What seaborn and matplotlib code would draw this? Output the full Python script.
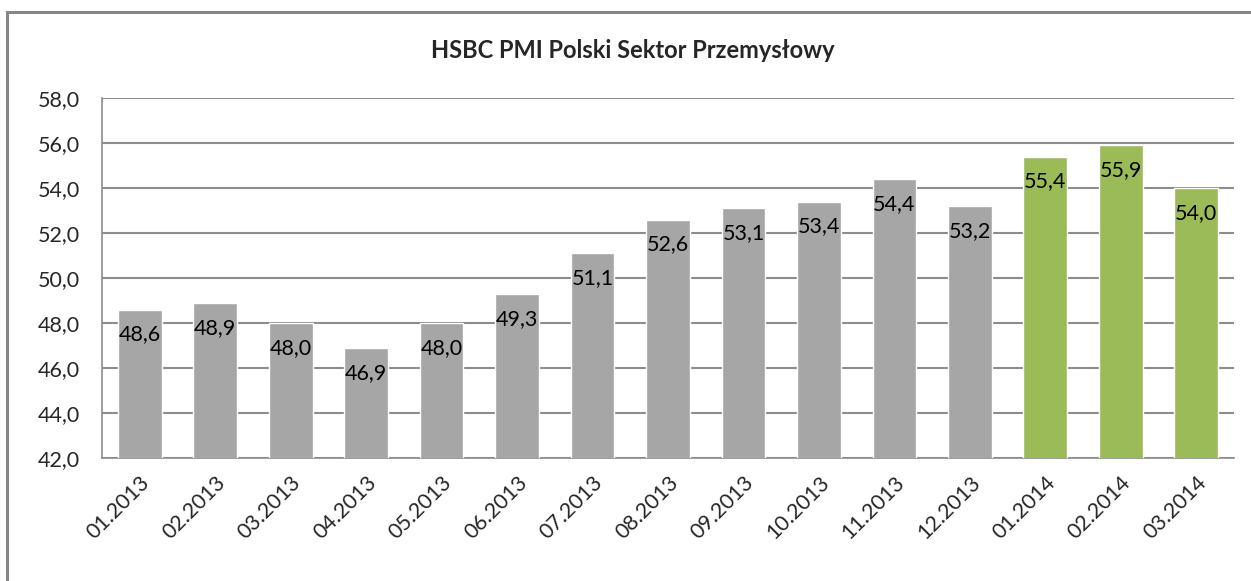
import matplotlib
matplotlib.use("Agg")
import matplotlib.pyplot as plt
from matplotlib.patches import Rectangle
import seaborn as sns
import pandas as pd

# Data
months = ['01.2013', '02.2013', '03.2013', '04.2013', '05.2013', '06.2013', '07.2013',
          '08.2013', '09.2013', '10.2013', '11.2013', '12.2013',
          '01.2014', '02.2014', '03.2014']
pmi = [48.6, 48.9, 48.0, 46.9, 48.0, 49.3, 51.1, 52.6, 53.1, 53.4, 54.4, 53.2,
       55.4, 55.9, 54.0]
years = [m.split('.')[1] for m in months]
year_colors = {'2013': '#A6A6A6', '2014': '#9BBB59'}
y_ticks = [42, 44, 46, 48, 50, 52, 54, 56, 58]

df = pd.DataFrame({'month': months, 'pmi': pmi, 'year': years})

sns.set_theme(style='white')
plt.rcParams['font.family'] = ['Lato', 'DejaVu Sans']

fig = plt.figure(figsize=(12.51, 5.81), dpi=100)
ax = fig.add_axes([102 / 1251, 1 - 458 / 581, (1234 - 102) / 1251, (458 - 98) / 581])

# outer chart frame (runs off the right and bottom edges)
fig.patches.append(Rectangle((7 / 1251, -0.05), 1.2, 1 - 12 / 581 + 0.05,
                             transform=fig.transFigure, fill=False,
                             edgecolor='#868686', linewidth=2.2, zorder=0))

sns.barplot(data=df, x='month', y='pmi', hue='year', palette=year_colors,
            dodge=False, legend=False, width=0.58, saturation=1, ax=ax, zorder=3)

fs = 15.5
ax.set_ylim(42, 58)
ax.set_yticks(y_ticks)
ax.set_yticklabels([f'{v:.1f}'.replace('.', ',') for v in y_ticks], fontsize=fs)
ax.set_xlim(-0.5, len(months) - 0.5)
ax.set_xticks(range(len(months)))
ax.set_xticklabels(months, rotation=45, ha='right', rotation_mode='anchor', fontsize=fs)
ax.tick_params(axis='y', length=0, pad=16)
ax.tick_params(axis='x', length=0, pad=10)
ax.set_xlabel('')
ax.set_ylabel('')

ax.yaxis.grid(True, color='#8C8C8C', linewidth=1.5, zorder=0)
ax.set_axisbelow(True)
for side in ['top', 'right']:
    ax.spines[side].set_visible(False)
for side in ['left', 'bottom']:
    ax.spines[side].set_color('#8C8C8C')
    ax.spines[side].set_linewidth(1.2)

for i, v in enumerate(pmi):
    ax.annotate(f'{v:.1f}'.replace('.', ','), xy=(i, v), xytext=(0, -18),
                textcoords='offset points', ha='center', va='center',
                fontsize=fs, color='black', zorder=5)

fig.text(633 / 1251, 1 - 50 / 581, 'HSBC PMI Polski Sektor Przemysłowy',
         ha='center', va='center', fontsize=17, fontweight='bold')

fig.savefig('out.png', dpi=100)
